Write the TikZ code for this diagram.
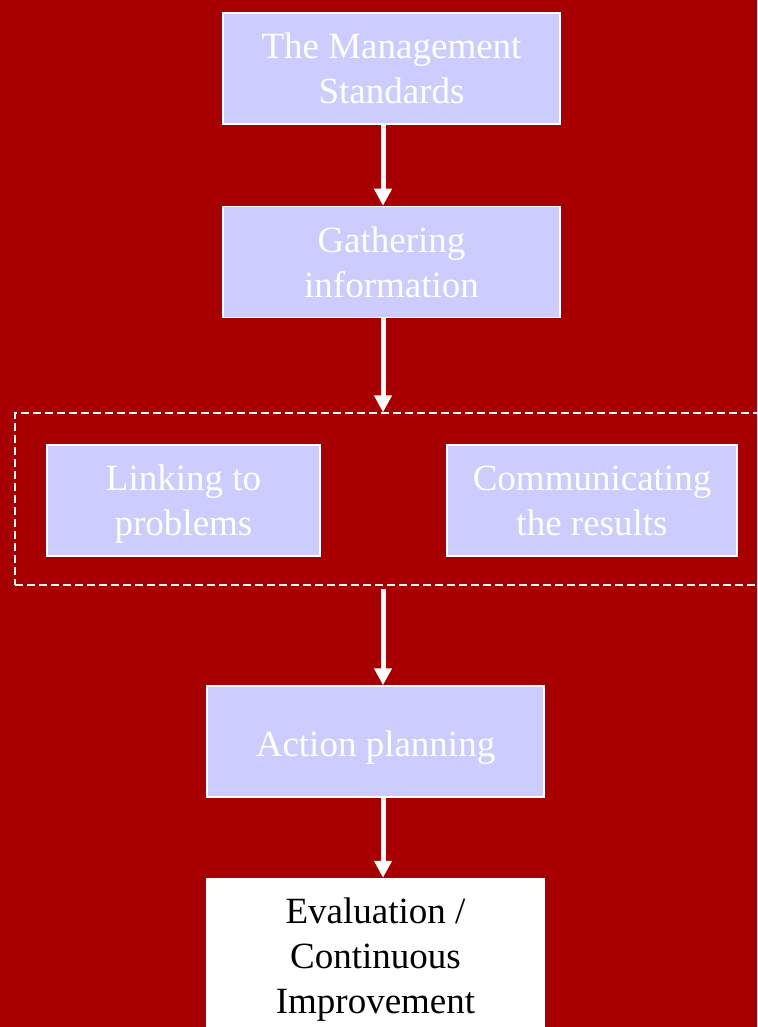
\documentclass[tikz,border=0pt]{standalone}
\usepackage{fontspec}
\setmainfont{Liberation Serif}
\usetikzlibrary{arrows.meta,positioning}
\definecolor{bgred}{RGB}{168,0,0}
\definecolor{lav}{RGB}{204,204,255}
\newcommand{\stagestrut}{\rule[-6pt]{0pt}{44pt}}
\tikzset{%
   stage/.style={
      rectangle,
      draw=white,
      line width=1.5pt,
      fill=lav,
      text=white,
      align=center,
      font=\fontsize{37}{45}\selectfont,
      execute at end node=\stagestrut,
      minimum width=337pt,
      minimum height=111pt,
      inner sep=0pt
   },
   twoline/.style={
      execute at end node={},
      text depth=0pt
   },
   laststage/.style={
      stage,
      fill=white,
      text=black,
      minimum height=162pt
   },
   group/.style={
      draw=white,
      dash pattern=on 8pt off 4pt,
      line width=1.3pt,
      inner sep=0pt
   },
   flow/.style={
      draw=white,
      line width=5pt,
      -{Triangle[width=17pt,length=17pt]}
   },
}

\begin{document}
\begin{tikzpicture}[x=1pt, y=-1pt]
   \fill[bgred] (0,0) rectangle (757,1027);
   \useasboundingbox (0,0) rectangle (757,1027);
   \coordinate (ax) at (383,0);
   \node[stage, twoline] (std) at (391.5,68.5) {The Management\\Standards};
   \node[stage, twoline, below=81pt of std] (gath) {Gathering\\information};
   \node[group, minimum width=755pt, minimum height=172pt] (grp) at (392.5,499) {};
   \node[stage, twoline, minimum width=273pt] (link) at (183.5,500.5) {Linking to\\problems};
   \node[stage, twoline, minimum width=290pt] (comm) at (592,500.5) {Communicating\\the results};
   \node[stage] (act) at (375.5,741.5) {Action planning};
   \node[laststage, below=80pt of act.south, anchor=north] (eval) {Evaluation /\\Continuous\\Improvement};
   \draw[flow] (std.south -| ax) -- (gath.north -| ax);
   \draw[flow] (gath.south -| ax) -- (grp.north -| ax);
   \draw[flow, shorten <=3pt] (grp.south -| ax) -- (act.north -| ax);
   \draw[flow] (act.south -| ax) -- (eval.north -| ax);
\end{tikzpicture}
\end{document}
